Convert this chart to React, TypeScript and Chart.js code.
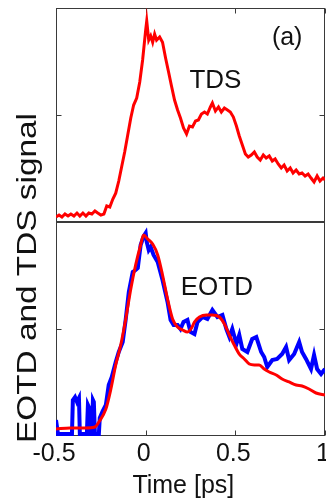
import { useEffect, useRef } from "react";
import { Chart, registerables } from "chart.js";

Chart.register(...registerables);

// ---- data (time in ps, signal in arbitrary units: 0..2 per panel) ----
const tdsTime = [-0.5, -0.483, -0.467, -0.45, -0.433, -0.417, -0.4, -0.383, -0.367, -0.35, -0.333, -0.317, -0.3, -0.283, -0.267, -0.25, -0.233,
  -0.217, -0.2, -0.183, -0.167, -0.15, -0.133, -0.117, -0.1, -0.083, -0.067, -0.05, -0.033, -0.017, 0,
  0.006, 0.017, 0.028, 0.039, 0.05, 0.061, 0.078, 0.094,
  0.111, 0.128, 0.144, 0.161, 0.178, 0.194, 0.211, 0.228, 0.244,
  0.261, 0.278, 0.294, 0.311, 0.328, 0.344, 0.361, 0.372, 0.389, 0.406, 0.422, 0.439, 0.456, 0.472, 0.489,
  0.506, 0.522, 0.539, 0.556, 0.572, 0.589, 0.606, 0.622, 0.639, 0.656, 0.672, 0.689, 0.706, 0.722, 0.739, 0.756,
  0.772, 0.789, 0.806, 0.822, 0.839, 0.856, 0.872, 0.889, 0.906, 0.922, 0.939, 0.956, 0.972, 0.989, 1.0];
const tdsSignal = [0.047, 0.065, 0.047, 0.075, 0.056, 0.075, 0.056, 0.084, 0.056, 0.084, 0.056, 0.084, 0.075, 0.103, 0.084, 0.065, 0.075,
  0.15, 0.14, 0.215, 0.27, 0.383, 0.523, 0.654, 0.813, 0.972, 1.093, 1.159, 1.308, 1.514, 1.794,
  1.879, 1.70, 1.74, 1.68, 1.757, 1.70, 1.729, 1.68,
  1.533, 1.40, 1.271, 1.14, 1.047, 0.972, 0.878, 0.822, 0.897,
  0.888, 0.944, 0.953, 1.009, 1.028, 1.009, 1.075, 1.112, 1.037, 1.075, 1.028, 1.065, 1.047, 1.028, 0.981,
  0.897, 0.804, 0.72, 0.636, 0.607, 0.626, 0.654, 0.607, 0.579, 0.626, 0.598, 0.617, 0.57, 0.589, 0.542, 0.505,
  0.533, 0.477, 0.505, 0.458, 0.486, 0.449, 0.458, 0.43, 0.449, 0.411, 0.374, 0.43, 0.383, 0.411, 0.393];

const refTime = [-0.5, -0.422, -0.339, -0.283, -0.261, -0.222, -0.194, -0.167, -0.139, -0.111, -0.083, -0.056, -0.028, -0.011,
  0.011, 0.039, 0.067, 0.094, 0.122, 0.15, 0.178, 0.206, 0.233, 0.256, 0.272, 0.3, 0.339, 0.372, 0.411, 0.439,
  0.467, 0.494, 0.522, 0.55, 0.578, 0.606, 0.633, 0.661, 0.689, 0.728, 0.761, 0.8, 0.839, 0.872, 0.911, 0.95, 1.0];
const refSignal = [0.065, 0.075, 0.075, 0.084, 0.131, 0.252, 0.439, 0.664, 0.85, 1.093, 1.374, 1.598, 1.785, 1.879,
  1.841, 1.794, 1.692, 1.505, 1.28, 1.093, 1.019, 0.991, 0.972, 1.009, 1.065, 1.112, 1.131, 1.131, 1.112, 1.047,
  0.944, 0.85, 0.766, 0.72, 0.673, 0.664, 0.664, 0.626, 0.598, 0.57, 0.533, 0.505, 0.477, 0.467, 0.439, 0.402, 0.383];

const eotdTime = [-0.5, -0.489, -0.411, -0.406, -0.394, -0.383, -0.372, -0.367, -0.328, -0.322,
  -0.317, -0.311, -0.3, -0.294, -0.289, -0.283, -0.261, -0.256, -0.239, -0.222,
  -0.206, -0.189, -0.167, -0.15, -0.128, -0.111, -0.094, -0.072, -0.056, -0.044,
  -0.028, -0.011, 0, 0.006, 0.017, 0.028, 0.044, 0.067, 0.094, 0.122,
  0.139, 0.156, 0.178, 0.194, 0.211, 0.233, 0.25, 0.272, 0.289, 0.317,
  0.344, 0.372, 0.4, 0.428, 0.45, 0.467, 0.483, 0.506, 0.522, 0.539,
  0.567, 0.594, 0.617, 0.644, 0.661, 0.678, 0.706, 0.733, 0.761, 0.783,
  0.8, 0.828, 0.856, 0.872, 0.894, 0.922, 0.939, 0.956, 0.978, 1.0];
const eotdSignal = [0.15, 0.019, 0.019, 0.336, 0.364, 0.318, 0.355, 0.019, 0.019, 0.29,
  0.271, 0.019, 0.019, 0.336, 0.318, 0.019, 0.019, 0.168, 0.234, 0.29,
  0.477, 0.551, 0.692, 0.785, 0.879, 1.093, 1.346, 1.533, 1.551, 1.57,
  1.785, 1.869, 1.897, 1.813, 1.738, 1.766, 1.692, 1.626, 1.458, 1.252,
  1.084, 1.037, 1.037, 1.0, 1.065, 1.084, 0.972, 0.953, 1.065, 1.112,
  1.093, 1.178, 1.112, 1.131, 1.0, 0.925, 1.0, 0.86, 0.944, 0.813,
  0.785, 0.907, 0.925, 0.785, 0.738, 0.645, 0.71, 0.72, 0.766, 0.832,
  0.71, 0.766, 0.879, 0.785, 0.72, 0.626, 0.757, 0.626, 0.579, 0.626];

const xTickValues = [-0.5, 0, 0.5, 1];
const yTickValues = [1];
const xTitle = "Time [ps]";
const yTitle = "EOTD and TDS signal";
const panelLabel = "(a)";
const topLabel = "TDS";
const bottomLabel = "EOTD";

const FONT = "'Liberation Sans', Arial, Helvetica, sans-serif";

const toPoints = (xs: number[], ys: number[]) => xs.map((x, i) => ({ x, y: ys[i] }));

const decorPlugin = {
  id: "decor",
  beforeDatasetsDraw(chart: any) {
    const { ctx, scales } = chart;
    const x = scales.x;
    const panels = [scales.yTop, scales.yBottom];
    ctx.save();
    ctx.strokeStyle = "#3a3a3a";
    ctx.lineWidth = 1;
    const L = Math.round(x.left) + 0.5;
    const R = Math.round(x.right) - 0.5;
    for (const s of panels) {
      const T = Math.round(s.top) + 0.5;
      const B = Math.round(s.bottom) - 0.5;
      ctx.strokeRect(L, T, R - L, B - T);
      for (const v of yTickValues) {
        const py = Math.round(s.getPixelForValue(v)) + 0.5;
        ctx.beginPath();
        ctx.moveTo(L, py); ctx.lineTo(L + 5, py);
        ctx.moveTo(R, py); ctx.lineTo(R - 5, py);
        ctx.stroke();
      }
    }
    const top = Math.round(scales.yTop.top) + 0.5;
    const bottom = Math.round(scales.yBottom.bottom) - 0.5;
    for (const v of xTickValues) {
      const px = Math.round(x.getPixelForValue(v)) + 0.5;
      ctx.beginPath();
      ctx.moveTo(px, top); ctx.lineTo(px, top + 5);
      ctx.moveTo(px, bottom); ctx.lineTo(px, bottom - 5);
      ctx.stroke();
    }
    ctx.restore();
  },
  afterDraw(chart: any) {
    const { ctx, scales } = chart;
    const x = scales.x;
    ctx.save();
    ctx.fillStyle = "#111";
    ctx.textAlign = "center";
    ctx.textBaseline = "alphabetic";
    ctx.font = `26px ${FONT}`;
    ctx.fillText(topLabel, x.getPixelForValue(0.389), scales.yTop.getPixelForValue(1.252));
    ctx.fillText(bottomLabel, x.getPixelForValue(0.397), scales.yBottom.getPixelForValue(1.318));
    ctx.font = `25px ${FONT}`;
    ctx.fillText(panelLabel, x.getPixelForValue(0.789), scales.yTop.getPixelForValue(1.654));
    // x axis title
    ctx.font = `25px ${FONT}`;
    ctx.fillText(xTitle, x.getPixelForValue(0.21), x.bottom - 9);
    // y axis title spanning both panels
    ctx.save();
    ctx.translate(36, (scales.yTop.top + scales.yBottom.bottom) / 2 + 56);
    ctx.rotate(-Math.PI / 2);
    ctx.font = `28px ${FONT}`;
    const w = ctx.measureText(yTitle).width;
    ctx.scale(330 / w, 1);
    ctx.fillText(yTitle, 0, 0);
    ctx.restore();
    ctx.restore();
  },
};

export default function App() {
  const ref = useRef<HTMLCanvasElement | null>(null);
  useEffect(() => {
    if (!ref.current) return;
    const chart = new Chart(ref.current, {
      type: "line",
      data: {
        datasets: [
          {
            label: "TDS",
            data: toPoints(tdsTime, tdsSignal),
            yAxisID: "yTop",
            borderColor: "#ff0000",
            borderWidth: 3,
            pointRadius: 0,
            tension: 0,
          },
          {
            label: "TDS (reference)",
            data: toPoints(refTime, refSignal),
            yAxisID: "yBottom",
            borderColor: "#ff0000",
            borderWidth: 3,
            pointRadius: 0,
            cubicInterpolationMode: "monotone",
          },
          {
            label: "EOTD",
            data: toPoints(eotdTime, eotdSignal),
            yAxisID: "yBottom",
            borderColor: "#0000ff",
            borderWidth: 4,
            pointRadius: 0,
            tension: 0,
          },
        ],
      },
      options: {
        animation: false,
        responsive: false,
        devicePixelRatio: 1,
        layout: { padding: { left: 0, right: 1, top: 8, bottom: 0 }, autoPadding: false },
        plugins: { legend: { display: false }, tooltip: { enabled: false } },
        scales: {
          x: {
            type: "linear",
            position: "bottom",
            min: -0.5,
            max: 1,
            grid: { display: false, drawTicks: false },
            border: { display: false },
            ticks: {
              stepSize: 0.5,
              autoSkip: false,
              maxRotation: 0,
              padding: 3,
              labelOffset: -2,
              color: "#111",
              font: { family: FONT, size: 25 },
              callback: (v: any) => String(v),
            },
            afterFit: (s: any) => {
              s.height = 66;
              s.paddingLeft = 0;
              s.paddingRight = 0;
            },
          },
          yBottom: {
            type: "linear",
            position: "left",
            min: 0,
            max: 2,
            stack: "panels",
            stackWeight: 1,
            grid: { display: false },
            border: { display: false },
            ticks: { display: false },
            afterFit: (s: any) => { s.width = 56; },
          },
          yTop: {
            type: "linear",
            position: "left",
            min: 0,
            max: 2,
            stack: "panels",
            stackWeight: 1,
            grid: { display: false },
            border: { display: false },
            ticks: { display: false },
            afterFit: (s: any) => { s.width = 56; },
          },
        },
      } as any,
      plugins: [decorPlugin],
    });
    return () => chart.destroy();
  }, []);
  return (
    <div style={{ position: "fixed", left: 0, top: 0, width: 326, height: 502, background: "#fff" }}>
      <canvas ref={ref} width={326} height={502} style={{ display: "block" }} />
    </div>
  );
}
